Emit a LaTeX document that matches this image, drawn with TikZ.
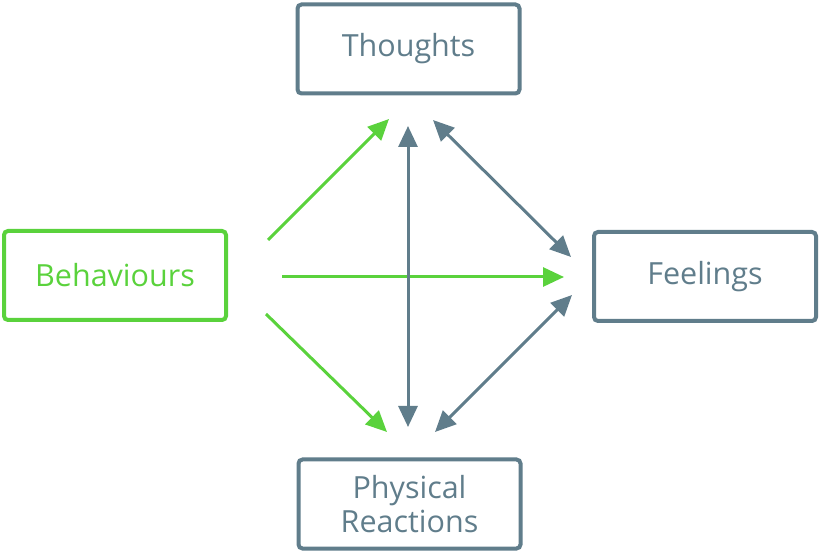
\documentclass[tikz,border=0pt]{standalone}
\usepackage{fontspec}
\setmainfont{Open Sans}
\usetikzlibrary{arrows.meta}
\definecolor{leafgreen}{HTML}{5AD23C}
\definecolor{slategrey}{HTML}{607D8B}

\begin{document}
\begin{tikzpicture}[x=1pt, y=-1pt,
  box/.style={draw=slategrey, rounded corners=4pt, line width=4pt,
              minimum width=222pt, minimum height=89pt, inner sep=0pt,
              text=slategrey, font=\fontsize{30.5}{34}\selectfont, align=center},
  greenbox/.style={box, draw=leafgreen, text=leafgreen},
  link/.style={slategrey, line width=3pt,
               -{Triangle[length=21pt, width=19pt]}},
  greenlink/.style={link, leafgreen},
  twoway/.style={link, {Triangle[length=21pt, width=19pt]}-{Triangle[length=21pt, width=19pt]}}]
\useasboundingbox (0,0) rectangle (820,553);
\node[box] (thoughts) at (408.5,49) {Thoughts};
\node[greenbox] (behaviours) at (115,275.5) {Behaviours};
\node[box] (feelings) at (705,276.5) {Feelings};
\node[box] (physical) at (409.5,504) {Physical\\Reactions};
% arrow ends
\coordinate (beh-up) at (268,240);
\coordinate (beh-mid) at (282,277);
\coordinate (beh-down) at (266,314);
\coordinate (th-left) at (389,119);
\coordinate (th-mid) at (408,126);
\coordinate (th-right) at (433,120);
\coordinate (fe-up) at (571,257);
\coordinate (fe-mid) at (564,277);
\coordinate (fe-down) at (572,295);
\coordinate (ph-left) at (387,432);
\coordinate (ph-mid) at (408,427);
\coordinate (ph-right) at (435,432);
\draw[greenlink] (beh-up) -- (th-left);
\draw[greenlink] (beh-mid) -- (fe-mid);
\draw[greenlink] (beh-down) -- (ph-left);
\draw[twoway] (th-mid) -- (ph-mid);
\draw[twoway] (th-right) -- (fe-up);
\draw[twoway] (ph-right) -- (fe-down);
\end{tikzpicture}
\end{document}
